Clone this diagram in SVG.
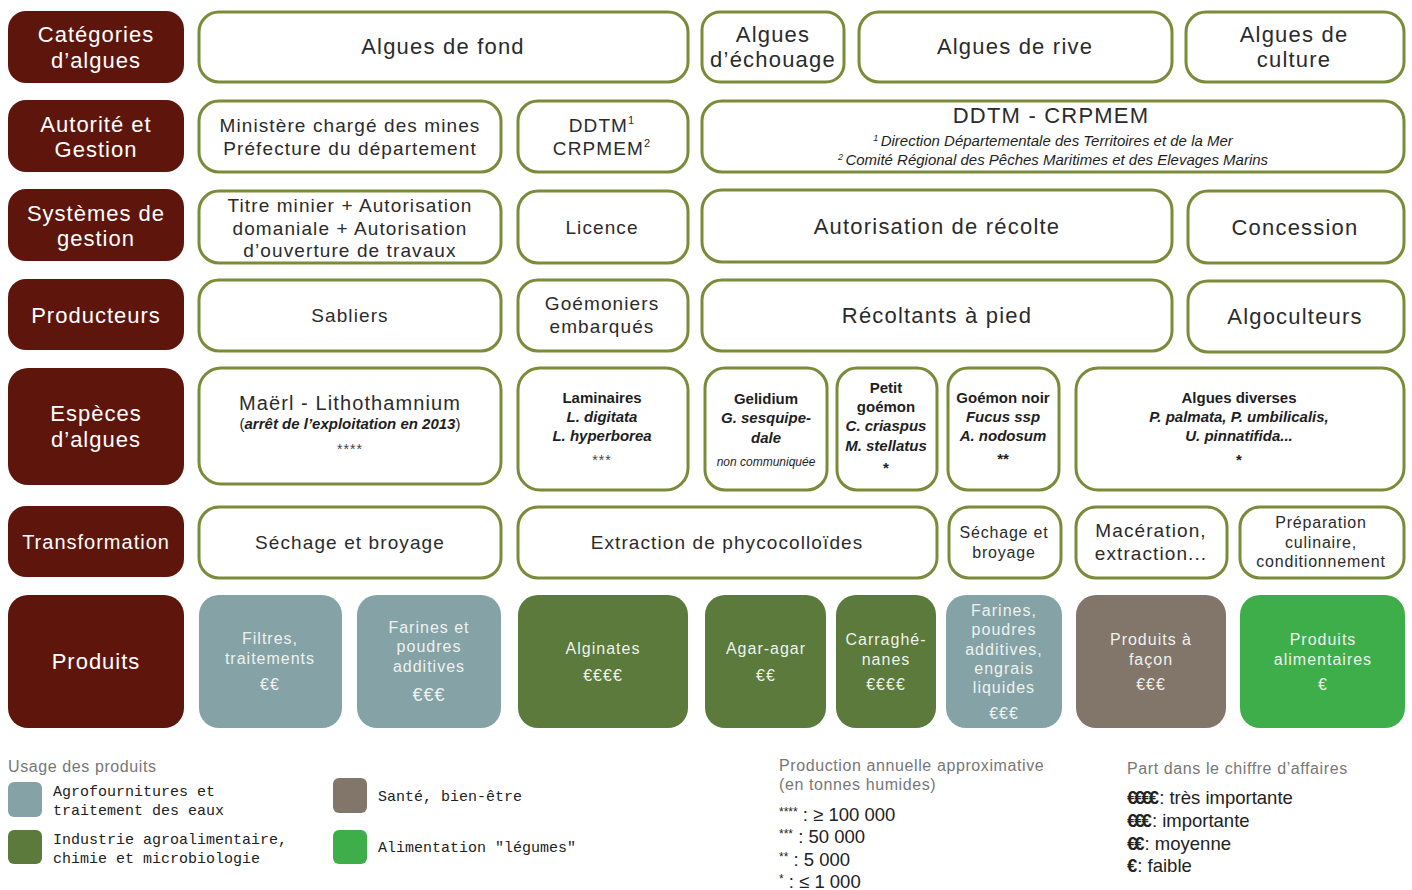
<svg xmlns="http://www.w3.org/2000/svg" width="1412" height="890" viewBox="0 0 1412 890">
<style>
.h{fill:#5e160c}
.b{fill:#fff;stroke:#7a8b3a;stroke-width:3}
.pb{fill:#85a2a7}.pg{fill:#5b7a3b}.pm{fill:#827569}.pl{fill:#3dae4a}
text{font-family:"Liberation Sans",Arial,sans-serif;text-anchor:middle}
.ht{fill:#fff;font-size:22px;letter-spacing:1px}
.t{fill:#2b2b2b;font-size:19px;letter-spacing:1.1px}
.tl{fill:#2b2b2b;font-size:22px;letter-spacing:1.2px}
.s{fill:#2b2b2b;font-size:16px;letter-spacing:0.8px}
.bi{fill:#1e1e1e;font-size:15px;font-weight:bold;font-style:italic}
.bo{fill:#1e1e1e;font-size:15px;font-weight:bold}
.it{fill:#1e1e1e;font-size:15px;font-style:italic}
.st{fill:#444;font-size:14px;letter-spacing:1px}
.p{fill:#eef2ee;font-size:16px;letter-spacing:1px}
.lg{fill:#777;font-size:16px;letter-spacing:0.6px;text-anchor:start}
.lm{fill:#222;font-family:"Liberation Mono","DejaVu Sans Mono",monospace;font-size:15px;text-anchor:start}
.lv{fill:#222;font-size:18.5px;text-anchor:start}
</style>
<g id="headers">
<rect class="h" x="8" y="11" width="176" height="72" rx="18"/>
<text class="ht" x="96" y="42">Catégories</text><text class="ht" x="96" y="68">d’algues</text>
<rect class="h" x="8" y="100" width="176" height="72" rx="18"/>
<text class="ht" x="96" y="132">Autorité et</text><text class="ht" x="96" y="157">Gestion</text>
<rect class="h" x="8" y="189" width="176" height="72" rx="18"/>
<text class="ht" x="96" y="221">Systèmes de</text><text class="ht" x="96" y="246">gestion</text>
<rect class="h" x="8" y="279" width="176" height="71" rx="18"/>
<text class="ht" x="96" y="323">Producteurs</text>
<rect class="h" x="8" y="368" width="176" height="117" rx="20"/>
<text class="ht" x="96" y="421">Espèces</text><text class="ht" x="96" y="447">d’algues</text>
<rect class="h" x="8" y="506" width="176" height="71" rx="18"/>
<text class="ht" x="96" y="549" style="font-size:20px">Transformation</text>
<rect class="h" x="8" y="595" width="176" height="133" rx="20"/>
<text class="ht" x="96" y="669">Produits</text>
</g>
<g id="row1">
<g id="fond"><rect class="b" x="199" y="12" width="489" height="70" rx="20"/><text class="tl" x="443" y="54">Algues de fond</text></g>
<g id="echouage"><rect class="b" x="702" y="12" width="142" height="70" rx="18"/><text class="tl" x="773" y="42">Algues</text><text class="tl" x="773" y="67">d’échouage</text></g>
<g id="rive"><rect class="b" x="859" y="12" width="313" height="70" rx="20"/><text class="tl" x="1015" y="54">Algues de rive</text></g>
<g id="culture"><rect class="b" x="1186" y="12" width="218" height="70" rx="20"/><text class="tl" x="1294" y="42">Algues de</text><text class="tl" x="1294" y="67">culture</text></g>
</g>
<g id="row2">
<g id="ministere"><rect class="b" x="199" y="101" width="302" height="71" rx="20"/><text class="t" x="350" y="132">Ministère chargé des mines</text><text class="t" x="350" y="155">Préfecture du département</text></g>
<g id="ddtm1"><rect class="b" x="518" y="101" width="170" height="71" rx="20"/><text class="t" x="602" y="132">DDTM<tspan style="font-size:11px" dy="-8">1</tspan></text><text class="t" x="602" y="155">CRPMEM<tspan style="font-size:11px" dy="-8">2</tspan></text></g>
<g id="ddtm2"><rect class="b" x="702" y="101" width="702" height="71" rx="20"/><text class="tl" x="1051" y="123">DDTM - CRPMEM</text>
<text class="it" x="1053" y="146"><tspan style="font-size:9px" dy="-5">1 </tspan><tspan dy="5">Direction Départementale des Territoires et de la Mer</tspan></text>
<text class="it" x="1053" y="165"><tspan style="font-size:9px" dy="-5">2 </tspan><tspan dy="5">Comité Régional des Pêches Maritimes et des Elevages Marins</tspan></text></g>
</g>
<g id="row3">
<g id="titre"><rect class="b" x="199" y="191" width="302" height="72" rx="20"/><text class="t" x="350" y="212">Titre minier + Autorisation</text><text class="t" x="350" y="235">domaniale + Autorisation</text><text class="t" x="350" y="257">d’ouverture de travaux</text></g>
<g id="licence"><rect class="b" x="518" y="191" width="170" height="72" rx="20"/><text class="t" x="602" y="234">Licence</text></g>
<g id="autorisation"><rect class="b" x="702" y="190" width="470" height="72" rx="20"/><text class="tl" x="937" y="234">Autorisation de récolte</text></g>
<g id="concession"><rect class="b" x="1188" y="191" width="216" height="72" rx="20"/><text class="tl" x="1295" y="235">Concession</text></g>
</g>
<g id="row4">
<g id="sabliers"><rect class="b" x="199" y="280" width="302" height="71" rx="20"/><text class="t" x="350" y="322">Sabliers</text></g>
<g id="goemoniers"><rect class="b" x="518" y="280" width="170" height="71" rx="20"/><text class="t" x="602" y="310">Goémoniers</text><text class="t" x="602" y="333">embarqués</text></g>
<g id="recoltants"><rect class="b" x="702" y="280" width="470" height="71" rx="20"/><text class="tl" x="937" y="323">Récoltants à pied</text></g>
<g id="algoculteurs"><rect class="b" x="1188" y="281" width="216" height="71" rx="20"/><text class="tl" x="1295" y="324">Algoculteurs</text></g>
</g>
<g id="row5">
<g id="maerl"><rect class="b" x="199" y="368" width="302" height="116" rx="22"/><text class="t" x="350" y="410" style="font-size:20px">Maërl - Lithothamnium</text><text class="it" x="350" y="429" style="font-style:normal">(<tspan style="font-weight:bold;font-style:italic">arrêt de l’exploitation en 2013</tspan>)</text><text class="st" x="350" y="454">****</text></g>
<g id="laminaires"><rect class="b" x="518" y="368" width="170" height="122" rx="22"/><text class="bo" x="602" y="403">Laminaires</text><text class="bi" x="602" y="422">L. digitata</text><text class="bi" x="602" y="441">L. hyperborea</text><text class="st" x="602" y="465">***</text></g>
<g id="gelidium"><rect class="b" x="705" y="368" width="122" height="122" rx="20"/><text class="bo" x="766" y="404">Gelidium</text><text class="bi" x="766" y="423">G. sesquipe-</text><text class="bi" x="766" y="443">dale</text><text class="it" x="766" y="466" style="font-size:12px">non communiquée</text></g>
<g id="petit"><rect class="b" x="837" y="368" width="100" height="122" rx="20"/><text class="bo" x="886" y="393">Petit</text><text class="bo" x="886" y="412">goémon</text><text class="bi" x="886" y="431">C. criaspus</text><text class="bi" x="886" y="451">M. stellatus</text><text class="bo" x="886" y="473">*</text></g>
<g id="noir"><rect class="b" x="948" y="368" width="111" height="122" rx="20"/><text class="bo" x="1003" y="403">Goémon noir</text><text class="bi" x="1003" y="422">Fucus ssp</text><text class="bi" x="1003" y="441">A. nodosum</text><text class="bo" x="1003" y="464">**</text></g>
<g id="diverses"><rect class="b" x="1076" y="368" width="328" height="122" rx="22"/><text class="bo" x="1239" y="403">Algues diverses</text><text class="bi" x="1239" y="422">P. palmata, P. umbilicalis,</text><text class="bi" x="1239" y="441">U. pinnatifida...</text><text class="bo" x="1239" y="465">*</text></g>
</g>
<g id="row6">
<g id="sechage1"><rect class="b" x="199" y="507" width="302" height="71" rx="20"/><text class="t" x="350" y="549">Séchage et broyage</text></g>
<g id="extraction"><rect class="b" x="518" y="507" width="419" height="71" rx="20"/><text class="t" x="727" y="549">Extraction de phycocolloïdes</text></g>
<g id="sechage2"><rect class="b" x="949" y="507" width="112" height="71" rx="20"/><text class="s" x="1004" y="538">Séchage et</text><text class="s" x="1004" y="558">broyage</text></g>
<g id="maceration"><rect class="b" x="1076" y="507" width="151" height="71" rx="20"/><text class="t" x="1151" y="537">Macération,</text><text class="t" x="1151" y="560">extraction...</text></g>
<g id="preparation"><rect class="b" x="1240" y="507" width="164" height="71" rx="20"/><text class="s" x="1321" y="528">Préparation</text><text class="s" x="1321" y="548">culinaire,</text><text class="s" x="1321" y="567">conditionnement</text></g>
</g>
<g id="row7">
<g id="filtres"><rect class="pb" x="199" y="595" width="143" height="133" rx="20"/><text class="p" x="270" y="644">Filtres,</text><text class="p" x="270" y="664">traitements</text><text class="p" x="270" y="690">€€</text></g>
<g id="farines1"><rect class="pb" x="357" y="595" width="144" height="133" rx="20"/><text class="p" x="429" y="633">Farines et</text><text class="p" x="429" y="652">poudres</text><text class="p" x="429" y="672">additives</text><text class="p" x="429" y="701" style="font-size:18px">€€€</text></g>
<g id="alginates"><rect class="pg" x="518" y="595" width="170" height="133" rx="20"/><text class="p" x="603" y="654">Alginates</text><text class="p" x="603" y="681">€€€€</text></g>
<g id="agar"><rect class="pg" x="705" y="595" width="121" height="133" rx="20"/><text class="p" x="766" y="654">Agar-agar</text><text class="p" x="766" y="681">€€</text></g>
<g id="carraghe"><rect class="pg" x="836" y="595" width="100" height="133" rx="20"/><text class="p" x="886" y="645">Carraghé-</text><text class="p" x="886" y="665">nanes</text><text class="p" x="886" y="690">€€€€</text></g>
<g id="farines2"><rect class="pb" x="946" y="595" width="116" height="133" rx="20"/><text class="p" x="1004" y="616">Farines,</text><text class="p" x="1004" y="635">poudres</text><text class="p" x="1004" y="655">additives,</text><text class="p" x="1004" y="674">engrais</text><text class="p" x="1004" y="693">liquides</text><text class="p" x="1004" y="719">€€€</text></g>
<g id="facon"><rect class="pm" x="1076" y="595" width="150" height="133" rx="20"/><text class="p" x="1151" y="645">Produits à</text><text class="p" x="1151" y="665">façon</text><text class="p" x="1151" y="690">€€€</text></g>
<g id="alimentaires"><rect class="pl" x="1240" y="595" width="165" height="133" rx="20"/><text class="p" x="1323" y="645">Produits</text><text class="p" x="1323" y="665">alimentaires</text><text class="p" x="1323" y="690">€</text></g>
</g>
<g id="connectors"></g>
<g id="legend">
<text class="lg" x="8" y="772">Usage des produits</text>
<rect class="pb" x="8" y="782" width="34" height="35" rx="6"/>
<text class="lm" x="53" y="796">Agrofournitures et</text><text class="lm" x="53" y="815">traitement des eaux</text>
<rect class="pg" x="8" y="830" width="34" height="34" rx="6"/>
<text class="lm" x="53" y="844">Industrie agroalimentaire,</text><text class="lm" x="53" y="863">chimie et microbiologie</text>
<rect class="pm" x="333" y="778" width="34" height="35" rx="6"/>
<text class="lm" x="378" y="801">Santé, bien-être</text>
<rect class="pl" x="333" y="830" width="34" height="34" rx="6"/>
<text class="lm" x="378" y="852">Alimentation "légumes"</text>
<text class="lg" x="779" y="771">Production annuelle approximative</text>
<text class="lg" x="779" y="790">(en tonnes humides)</text>
<text class="lv" x="779" y="821"><tspan style="font-size:12px" dy="-5">****</tspan><tspan dy="5"> : ≥ 100 000</tspan></text>
<text class="lv" x="779" y="843"><tspan style="font-size:12px" dy="-5">***</tspan><tspan dy="5"> : 50 000</tspan></text>
<text class="lv" x="779" y="866"><tspan style="font-size:12px" dy="-5">**</tspan><tspan dy="5"> : 5 000</tspan></text>
<text class="lv" x="779" y="888"><tspan style="font-size:12px" dy="-5">*</tspan><tspan dy="5"> : ≤ 1 000</tspan></text>
<text class="lg" x="1127" y="774">Part dans le chiffre d’affaires</text>
<text class="lv" x="1127" y="804"><tspan style="font-weight:bold;letter-spacing:-3px">€€€€</tspan><tspan dx="3">: très importante</tspan></text>
<text class="lv" x="1127" y="827"><tspan style="font-weight:bold;letter-spacing:-3px">€€€</tspan><tspan dx="3">: importante</tspan></text>
<text class="lv" x="1127" y="850"><tspan style="font-weight:bold;letter-spacing:-3px">€€</tspan><tspan dx="3">: moyenne</tspan></text>
<text class="lv" x="1127" y="872"><tspan style="font-weight:bold">€</tspan>: faible</text>
</g>
</svg>
